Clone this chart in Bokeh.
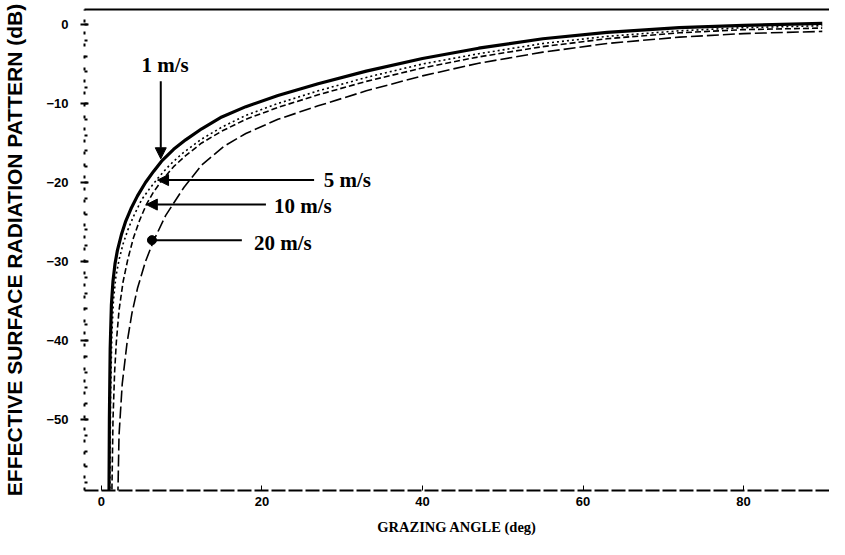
from bokeh.plotting import figure
from bokeh.models import Range1d, LinearAxis, FixedTicker, Arrow, NormalHead
from bokeh.core.properties import value
from bokeh.embed import file_html
from bokeh.resources import INLINE

# ---- data ----
angle_1 = [0.95, 1.0, 1.1, 1.25, 1.45, 1.7, 2.0, 2.5, 3.0, 3.7, 4.5, 5.5, 6.5, 7.5, 9.0, 10.5,
           12.5, 15, 18, 22, 27, 33, 40, 47, 55, 63, 72, 80, 89.8]
db_1 = [-60, -50, -41, -35.5, -32.5, -30.3, -28.6, -26.6, -25.0, -23.3, -21.7, -20.0, -18.6, -17.3,
        -15.8, -14.6, -13.2, -11.7, -10.4, -9.0, -7.5, -5.9, -4.3, -3.0, -1.8, -1.0, -0.4, -0.1, 0.15]

angle_5 = [1.05, 1.15, 1.3, 1.5, 1.8, 2.2, 2.7, 3.3, 4.0, 5.0, 6.0, 7.0, 8.5, 10, 12.5, 15, 18,
           22, 27, 33, 40, 47, 55, 63, 72, 80, 89.8]
db_5 = [-60, -47, -39.5, -35, -32, -29.8, -27.8, -26.0, -24.3, -22.2, -20.8, -19.5, -17.8, -16.4,
        -14.5, -13.0, -11.5, -10.0, -8.4, -6.7, -5.0, -3.7, -2.4, -1.5, -0.8, -0.4, -0.15]

angle_10 = [1.3, 1.45, 1.65, 1.86, 2.2, 2.7, 3.3, 4.0, 4.8, 5.6, 6.5, 7.5, 9.0, 10.5, 12.5, 15,
            18, 22, 27, 33, 40, 47, 55, 63, 72, 80, 89.8]
db_10 = [-60, -50, -44, -40.3, -36.2, -32.6, -29.7, -27.0, -24.7, -22.8, -21.2, -19.8, -18.0,
         -16.6, -15.0, -13.5, -12.0, -10.5, -8.9, -7.2, -5.5, -4.1, -2.8, -1.8, -1.05, -0.65, -0.45]

angle_20 = [2.05, 2.2, 2.6, 3.2, 3.8, 4.5, 5.5, 6.5, 8.0, 10.3, 12.5, 15.3, 18, 22, 27, 33, 40,
            47, 55, 63, 72, 80, 89.8]
db_20 = [-60, -52, -45.5, -40.3, -36.6, -33.4, -30.0, -27.4, -24.2, -20.6, -17.8, -15.4, -13.8,
         -12.0, -10.3, -8.4, -6.5, -4.9, -3.5, -2.4, -1.6, -1.15, -0.87]

x_ticks = [0, 20, 40, 60, 80]
y_ticks = [0, -10, -20, -30, -40, -50]
y_minor = [v for v in range(0, -60, -2)]

speed_labels = ["1 m/s", "5 m/s", "10 m/s", "20 m/s"]
label_x = [5.0, 27.7, 21.5, 19.0]
label_y = [-5.1, -19.7, -23.0, -27.7]

# ---- figure ----
p = figure(width=829, height=539, output_backend="svg", toolbar_location=None,
           x_range=Range1d(-2.1, 90.7), y_range=Range1d(-59.0, 1.9),
           min_border_left=82, min_border_right=0, min_border_top=9, min_border_bottom=49)
p.outline_line_color = None
p.grid.visible = False

# bottom axis
xa = p.xaxis[0]
xa.ticker = FixedTicker(ticks=x_ticks)
xa.axis_line_width = 2
xa.axis_line_dash = "14 3"
xa.major_tick_in = 5
xa.major_tick_out = 0
xa.minor_tick_line_color = None
xa.major_label_standoff = 6
xa.major_label_text_font = "Liberation Sans"
xa.major_label_text_font_style = "bold"
xa.major_label_text_font_size = "13px"
xa.major_label_text_color = "black"
xa.axis_label = "GRAZING ANGLE (deg)"
xa.axis_label_text_font = "Liberation Serif"
xa.axis_label_text_font_style = "bold"
xa.axis_label_text_font_size = "14.5px"
xa.axis_label_standoff = 10
xa.axis_label_text_color = "black"

# left axis
ya = p.yaxis[0]
ya.ticker = FixedTicker(ticks=y_ticks, minor_ticks=y_minor)
ya.axis_line_width = 2
ya.axis_line_dash = "3 9"
ya.major_tick_in = 4
ya.major_tick_out = 4
ya.major_tick_line_width = 2
ya.minor_tick_in = 3
ya.minor_tick_out = 0
ya.minor_tick_line_width = 2
ya.major_label_standoff = 12
ya.major_label_text_font = "Liberation Sans"
ya.major_label_text_font_style = "bold"
ya.major_label_text_font_size = "13px"
ya.major_label_text_color = "black"
ya.axis_label = "EFFECTIVE SURFACE RADIATION PATTERN (dB)"
ya.axis_label_text_font = "Liberation Sans"
ya.axis_label_text_font_style = "bold"
ya.axis_label_text_font_size = "21px"
ya.axis_label_standoff = 17
ya.axis_label_text_color = "black"

# top frame line
top = LinearAxis(ticker=FixedTicker(ticks=[]), axis_line_width=2,
                 major_tick_in=0, major_tick_out=0, minor_tick_in=0, minor_tick_out=0,
                 major_label_text_font_size="0px")
p.add_layout(top, "above")

# ---- curves ----
p.line(angle_1, db_1, line_width=3.2, line_color="black")
p.line(angle_5, db_5, line_width=1.6, line_color="black", line_dash="2 3")
p.line(angle_10, db_10, line_width=1.6, line_color="black", line_dash="6 3")
p.line(angle_20, db_20, line_width=1.6, line_color="black", line_dash="12 4")

# ---- annotations ----
head = dict(size=11, fill_color="black", line_color="black")
p.add_layout(Arrow(end=NormalHead(**head), x_start=7.4, y_start=-7.2, x_end=7.4, y_end=-17.0,
                   line_width=2, line_color="black"))
p.add_layout(Arrow(end=NormalHead(**head), x_start=26.5, y_start=-19.7, x_end=7.0, y_end=-19.7,
                   line_width=2, line_color="black"))
p.add_layout(Arrow(end=NormalHead(**head), x_start=20.5, y_start=-22.8, x_end=5.6, y_end=-22.8,
                   line_width=2, line_color="black"))
p.segment(x0=[17.5], y0=[-27.3], x1=[6.3], y1=[-27.3], line_width=2, line_color="black")
p.scatter([6.3], [-27.3], size=9, color="black")

p.text(x=label_x, y=label_y, text=speed_labels,
       text_font=value("Liberation Serif"), text_font_size="21px", text_font_style="bold",
       text_baseline="middle", text_align="left", text_color="black")

open("out.html", "w").write(file_html(p, INLINE))
